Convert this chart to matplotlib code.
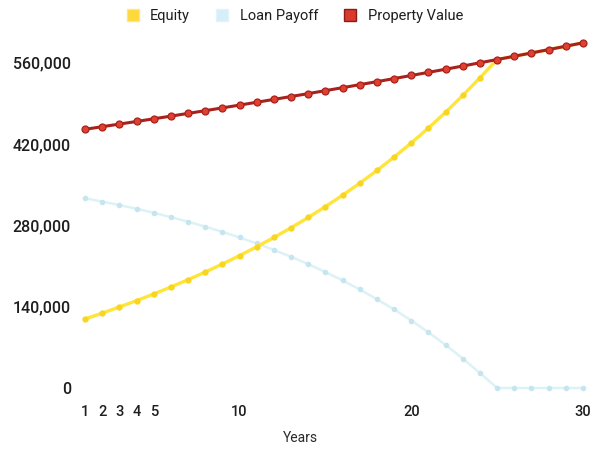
import matplotlib.pyplot as plt
from matplotlib.patches import Patch

years = list(range(1, 31))

equity = [118800, 128900, 139500, 150400, 161900, 173900, 186500, 199600, 213500, 228000,
          243200, 259200, 276000, 293700, 312400, 332000, 352700, 374600, 397700, 422000,
          447800, 474900, 503800, 534300, 565700, 571300, 577000, 582800, 588600, 594500]

loan_payoff = [326700, 321100, 315000, 308600, 301700, 294300, 286400, 278000, 268900, 259200,
               248900, 237800, 226000, 213300, 199700, 185200, 169700, 153000, 135200, 116200,
               95800, 74100, 50700, 25800, 0, 0, 0, 0, 0, 0]

property_value = [445500, 450000, 454500, 459000, 463600, 468200, 472900, 477600, 482400, 487200,
                  492100, 497000, 502000, 507000, 512100, 517200, 522400, 527600, 532900, 538200,
                  543600, 549000, 554500, 560100, 565700, 571300, 577000, 582800, 588600, 594500]

x_ticks = [1, 2, 3, 4, 5, 10, 20, 30]
y_ticks = [0, 140000, 280000, 420000, 560000]

plt.rcParams['font.family'] = ['Roboto', 'DejaVu Sans']

fig = plt.figure(figsize=(5.99, 4.49), dpi=100)
ax = fig.add_axes([85 / 599, 61 / 449, 498 / 599, 348.4 / 449])

ax.plot(years, loan_payoff, color='#dcf2f7', lw=1.8, marker='o', ms=3,
        mfc='#c6e6ef', mec='#c6e6ef', clip_on=False, zorder=2)
ax.plot(years, equity, color='#ffe43a', lw=2.4, marker='o', ms=3.5,
        mfc='#f8d520', mec='#f8d520', clip_on=False, zorder=3)
ax.plot(years, property_value, color='#a8221d', lw=2.2, marker='o', ms=5,
        mfc='#e0402f', mec='#a8221d', mew=0.9, clip_on=False, zorder=4)

ax.set_xlim(1, 30)
ax.set_ylim(0, 600000)
ax.set_xticks(x_ticks)
ax.set_yticks(y_ticks)
ax.set_yticklabels([f'{v:,}' for v in y_ticks])
ax.tick_params(length=0, colors='#1e1e1e')
ax.tick_params(axis='x', pad=12, labelsize=10.5)
ax.tick_params(axis='y', pad=10, labelsize=11.5)
for lbl in ax.get_xticklabels() + ax.get_yticklabels():
    lbl.set_fontweight('medium')
for s in ax.spines.values():
    s.set_visible(False)

ax.set_xlabel('Years', fontsize=10, color='#2a2a2a')
ax.xaxis.set_label_coords(0.432, -0.123)

handles = [
    Patch(facecolor='#ffd83a', edgecolor='#ffe680', label='Equity'),
    Patch(facecolor='#d6eef8', edgecolor='#e3f3fa', label='Loan Payoff'),
    Patch(facecolor='#d93a2b', edgecolor='#8b1a1a', label='Property Value'),
]
fig.legend(handles=handles, loc='center', bbox_to_anchor=(295 / 599, 1 - 16 / 449),
           ncol=3, frameon=False, fontsize=10.5, handlelength=0.8, handleheight=0.8,
           handletextpad=0.8, columnspacing=1.8, labelcolor='#1e1e1e')

fig.savefig('out.png', dpi=100, facecolor='white')
